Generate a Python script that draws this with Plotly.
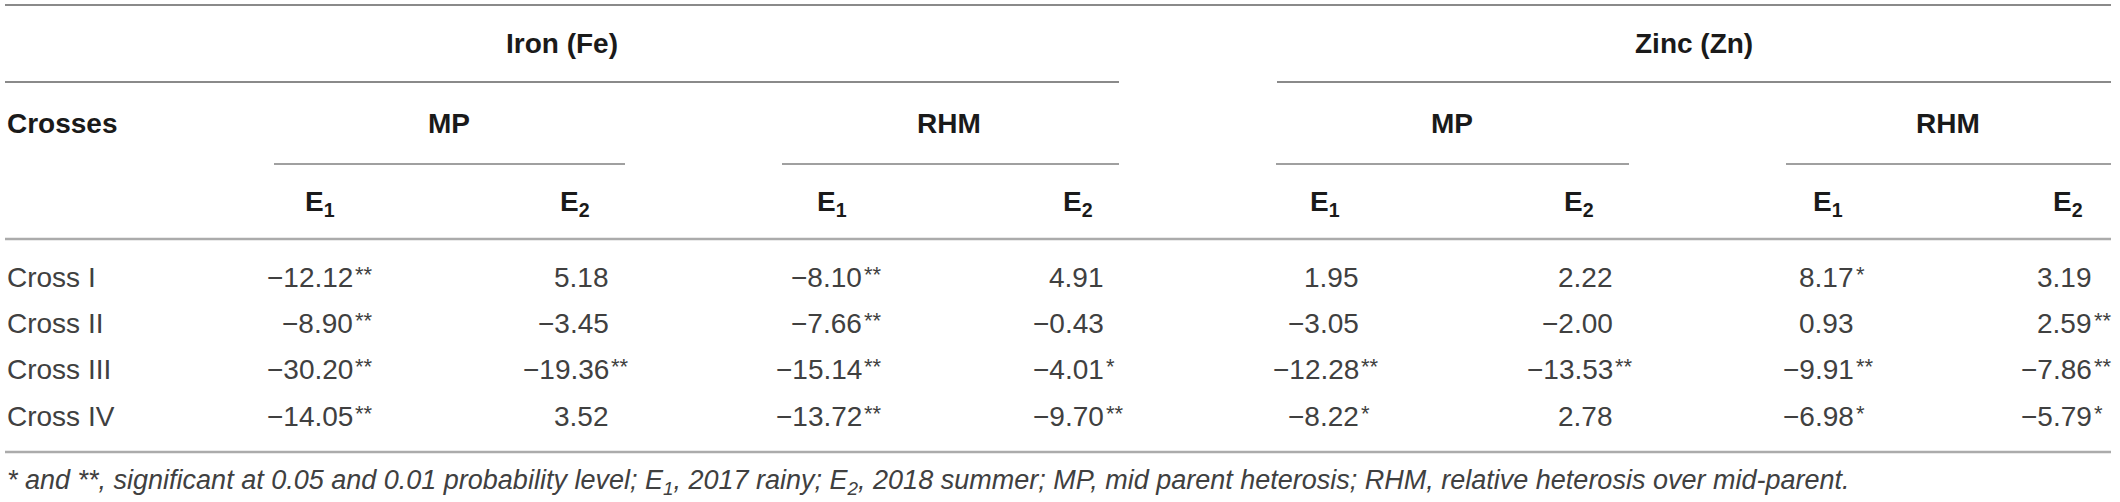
import plotly.graph_objects as go

# ---------------- data ----------------
crosses = ["Cross I", "Cross II", "Cross III", "Cross IV"]
elements = ["Iron (Fe)", "Zinc (Zn)"]
heterosis_types = ["MP", "RHM"]
environments = ["E<sub>1</sub>", "E<sub>2</sub>"]
row_header = "Crosses"

fe_mp_e1 = [-12.12, -8.90, -30.20, -14.05]
fe_mp_e1_sig = ["**", "**", "**", "**"]
fe_mp_e2 = [5.18, -3.45, -19.36, 3.52]
fe_mp_e2_sig = ["", "", "**", ""]
fe_rhm_e1 = [-8.10, -7.66, -15.14, -13.72]
fe_rhm_e1_sig = ["**", "**", "**", "**"]
fe_rhm_e2 = [4.91, -0.43, -4.01, -9.70]
fe_rhm_e2_sig = ["", "", "*", "**"]
zn_mp_e1 = [1.95, -3.05, -12.28, -8.22]
zn_mp_e1_sig = ["", "", "**", "*"]
zn_mp_e2 = [2.22, -2.00, -13.53, 2.78]
zn_mp_e2_sig = ["", "", "**", ""]
zn_rhm_e1 = [8.17, 0.93, -9.91, -6.98]
zn_rhm_e1_sig = ["*", "", "**", "*"]
zn_rhm_e2 = [3.19, 2.59, -7.86, -5.79]
zn_rhm_e2_sig = ["", "**", "**", "*"]

footnote = ("* and **, significant at 0.05 and 0.01 probability level; E<sub>1</sub>, 2017 rainy; "
            "E<sub>2</sub>, 2018 summer; MP, mid parent heterosis; RHM, relative heterosis over mid-parent.")

columns = [
    (fe_mp_e1, fe_mp_e1_sig), (fe_mp_e2, fe_mp_e2_sig),
    (fe_rhm_e1, fe_rhm_e1_sig), (fe_rhm_e2, fe_rhm_e2_sig),
    (zn_mp_e1, zn_mp_e1_sig), (zn_mp_e2, zn_mp_e2_sig),
    (zn_rhm_e1, zn_rhm_e1_sig), (zn_rhm_e2, zn_rhm_e2_sig),
]

# ---------------- layout geometry ----------------
W, H = 2120, 502
FONT = "Liberation Sans, Arial, Helvetica, sans-serif"
HEAD_C = "#1a1a1a"
BODY_C = "#404040"
FS_HEAD = 28
FS_BODY = 28
FS_SIG = 22
FS_NOTE = 27

num_right = [355, 611, 864, 1106, 1361, 1615, 1856, 2094]
env_center = [320, 575, 832, 1078, 1325, 1579, 1828, 2068]
het_center = [449, 949, 1452, 1948]
het_span = [(274, 625), (782, 1119), (1276, 1629), (1786, 2111)]
elem_span = [(5, 1119), (1277, 2111)]
row_y = [277, 323, 369, 416]

y_elem, y_het, y_env = 43, 123, 203

fig = go.Figure()
fig.add_trace(go.Scatter(x=[0, W], y=[0, H], mode="markers",
                         marker=dict(opacity=0), hoverinfo="skip", showlegend=False))

ann = []

def add_text(x, y, text, size, color, xanchor="center", bold=False, italic=False, yshift=0):
    ann.append(dict(x=x, y=y, xref="x", yref="y", text=text, showarrow=False,
                    xanchor=xanchor, yanchor="middle", yshift=yshift,
                    font=dict(family=FONT, size=size, color=color,
                              weight="bold" if bold else "normal",
                              style="italic" if italic else "normal")))

# element headers
for (x0, x1), name in zip(elem_span, elements):
    add_text((x0 + x1) / 2, y_elem, name, FS_HEAD, HEAD_C, bold=True)

# heterosis headers
for i, xc in enumerate(het_center):
    add_text(xc, y_het, heterosis_types[i % 2], FS_HEAD, HEAD_C, bold=True)
add_text(5, y_het, row_header, FS_HEAD, HEAD_C, xanchor="left", bold=True)

# environment headers
for i, xc in enumerate(env_center):
    add_text(xc, y_env, environments[i % 2], FS_HEAD, HEAD_C, bold=True)

# body
for r, name in enumerate(crosses):
    add_text(5, row_y[r], name, FS_BODY, BODY_C, xanchor="left")
for c, (vals, sigs) in enumerate(columns):
    for r, (v, s) in enumerate(zip(vals, sigs)):
        txt = f"{v:.2f}".replace("-", "\u2212")
        add_text(num_right[c], row_y[r], txt, FS_BODY, BODY_C, xanchor="right")
        if s:
            add_text(num_right[c] - 2, row_y[r], s, FS_SIG, BODY_C, xanchor="left", yshift=3)

# footnote
add_text(5, 482, footnote, FS_NOTE, BODY_C, xanchor="left", italic=True)

# rules
shapes = []
def hline(x0, x1, y, color, width):
    shapes.append(dict(type="line", xref="x", yref="y", x0=x0, x1=x1, y0=y, y1=y,
                       line=dict(color=color, width=width)))

hline(5, 2111, 5, "#8a8a8a", 2)
for x0, x1 in elem_span:
    hline(x0, x1, 82, "#8a8a8a", 2)
for x0, x1 in het_span:
    hline(x0, x1, 164, "#a0a0a0", 2)
hline(5, 2111, 239, "#ababab", 2.5)
hline(5, 2111, 452, "#ababab", 2.5)

fig.update_layout(
    width=W, height=H,
    margin=dict(l=0, r=0, t=0, b=0),
    paper_bgcolor="white", plot_bgcolor="white",
    xaxis=dict(range=[0, W], visible=False, fixedrange=True),
    yaxis=dict(range=[H, 0], visible=False, fixedrange=True),
    annotations=ann, shapes=shapes, showlegend=False,
)

fig.write_html("out.html", config={"displayModeBar": False},
               post_script="document.body.style.margin='0';document.body.style.overflow='hidden';")
